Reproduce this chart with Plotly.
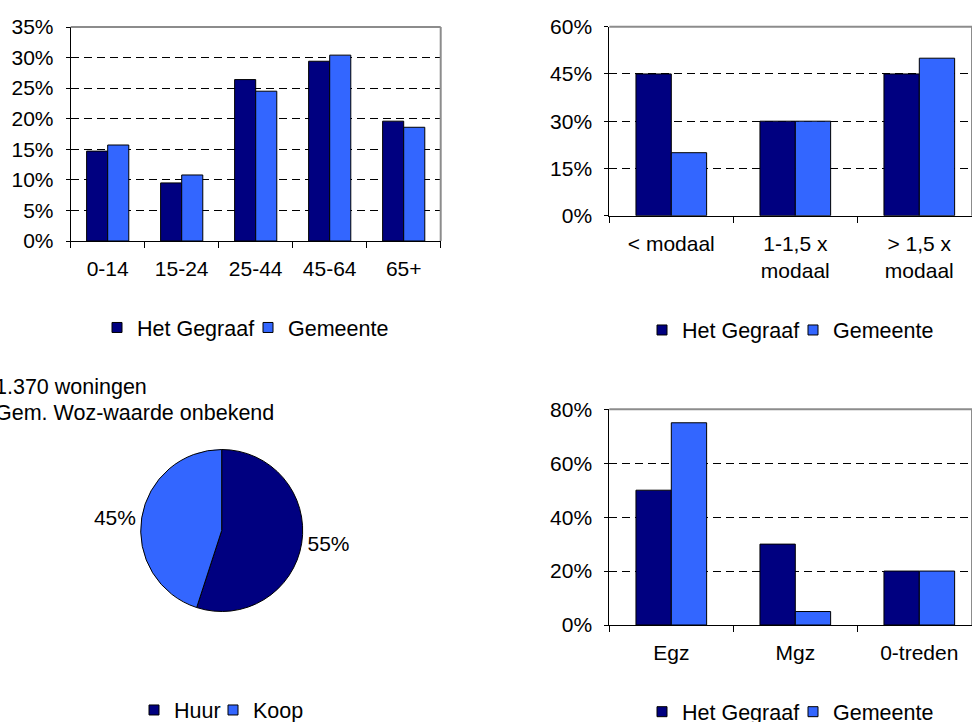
import plotly.graph_objects as go

# ---- data ----
age_groups = ["0-14", "15-24", "25-44", "45-64", "65+"]
age_gegraaf = [14.7, 9.5, 26.4, 29.4, 19.6]
age_gemeente = [15.7, 10.8, 24.5, 30.4, 18.6]

income_groups = ["< modaal", "1-1,5 x<br>modaal", "> 1,5 x<br>modaal"]
income_gegraaf = [45, 30, 45]
income_gemeente = [20, 30, 50]

tenure_labels = ["Huur", "Koop"]
tenure_values = [55, 45]

dwelling_types = ["Egz", "Mgz", "0-treden"]
dwelling_gegraaf = [50, 30, 20]
dwelling_gemeente = [75, 5, 20]

series_names = ["Het Gegraaf", "Gemeente"]
info_lines = ["1.370 woningen", "Gem. Woz-waarde onbekend"]

# ---- style ----
W, H = 972, 722
NAVY = "#000080"
BLUE = "#3366FF"
COLORS = [NAVY, BLUE]
FAMILY = "Liberation Sans, Arial, sans-serif"
FONT = dict(family=FAMILY, size=21, color="black")
LEG_FONT = dict(family=FAMILY, size=21.5, color="black")


def px_x(v):
    return v / W


def px_y(v):
    return 1 - v / H


fig = go.Figure()


def add_bars(cats, s1, s2, xa, ya):
    for name, vals, col in zip(series_names, (s1, s2), COLORS):
        fig.add_trace(go.Bar(
            x=cats, y=vals, name=name, xaxis=xa, yaxis=ya, showlegend=False,
            marker=dict(color=col, line=dict(color="black", width=1)),
            hoverinfo="skip",
        ))


def add_legend_key(name, col, legend):
    # small outlined square as legend key
    fig.add_trace(go.Scatter(
        x=[None], y=[None], mode="markers", name=name, legend=legend,
        marker=dict(symbol="square", size=10, color=col,
                    line=dict(color="black", width=1)),
        hoverinfo="skip",
    ))


add_bars(age_groups, age_gegraaf, age_gemeente, "x", "y")
add_bars(income_groups, income_gegraaf, income_gemeente, "x2", "y2")
add_bars(dwelling_types, dwelling_gegraaf, dwelling_gemeente, "x3", "y3")

fig.add_trace(go.Pie(
    labels=tenure_labels, values=tenure_values, sort=False,
    direction="clockwise", rotation=0,
    marker=dict(colors=COLORS, line=dict(color="black", width=1)),
    textposition="outside", texttemplate="%{percent:.0%}",
    textfont=FONT, showlegend=False,
    domain=dict(x=[px_x(140.7), px_x(302.7)], y=[px_y(611.7), px_y(449.3)]),
    hoverinfo="skip",
))

for lg in ("legend", "legend2", "legend4"):
    for name, col in zip(series_names, COLORS):
        add_legend_key(name, col, lg)
add_legend_key(tenure_labels[0], COLORS[0], "legend3")
add_legend_key(tenure_labels[1], COLORS[1], "legend5")


def xaxis_cfg(dom, rng, anchor):
    return dict(
        domain=dom, range=rng, anchor=anchor, type="category", showline=True,
        linecolor="black", linewidth=1, ticks="outside", tickson="boundaries",
        ticklen=6, tickcolor="black", tickwidth=1, showgrid=False,
        ticklabelstandoff=9, tickfont=FONT, fixedrange=True,
    )


def yaxis_cfg(dom, top, step, anchor):
    vals = list(range(0, top + 1, step))
    return dict(
        domain=dom, range=[0, top], anchor=anchor, tickvals=vals,
        ticktext=[f"{v}%" for v in vals],
        showline=True, linecolor="black", linewidth=1, ticks="outside", ticklen=4,
        tickcolor="black", showgrid=True, gridcolor="black", gridwidth=1,
        griddash="8px,5px", zeroline=False, ticklabelstandoff=8,
        tickfont=FONT, fixedrange=True,
    )


right_rng = [-0.5, -0.5 + (W - 609.3) / 124.0]

fig.update_layout(
    width=W, height=H, margin=dict(l=0, r=0, t=0, b=0, autoexpand=False),
    paper_bgcolor="white", plot_bgcolor="white", font=FONT,
    barmode="group", bargap=0.43, bargroupgap=0,
    xaxis=xaxis_cfg([px_x(70.7), px_x(440.7)], [-0.5, 4.5], "y"),
    yaxis=yaxis_cfg([px_y(241), px_y(27)], 35, 5, "x"),
    xaxis2=xaxis_cfg([px_x(609.3), 1.0], right_rng, "y2"),
    yaxis2=yaxis_cfg([px_y(215.7), px_y(26.7)], 60, 15, "x2"),
    xaxis3=xaxis_cfg([px_x(609.3), 1.0], right_rng, "y3"),
    yaxis3=yaxis_cfg([px_y(625), px_y(409.3)], 80, 20, "x3"),
)

leg_common = dict(orientation="h", yanchor="middle",
                  font=LEG_FONT, bgcolor="rgba(0,0,0,0)", itemclick=False,
                  itemdoubleclick=False, traceorder="normal")
fig.update_layout(
    legend=dict(x=px_x(248), y=px_y(327.5), xanchor="center", entrywidth=106, **leg_common),
    legend2=dict(x=px_x(793), y=px_y(330), xanchor="center", entrywidth=106, **leg_common),
    legend3=dict(x=px_x(134), y=px_y(710), xanchor="left", **leg_common),
    legend5=dict(x=px_x(213), y=px_y(710), xanchor="left", **leg_common),
    legend4=dict(x=px_x(793), y=px_y(711.7), xanchor="center", entrywidth=106, **leg_common),
)

# grey plot-area frame on top and right
for xr, yr in (("x", "y"), ("x2", "y2"), ("x3", "y3")):
    fig.add_shape(type="line", xref=f"{xr} domain", yref=f"{yr} domain",
                  x0=0, x1=1, y0=1, y1=1, line=dict(color="#8c8c8c", width=2))
    fig.add_shape(type="line", xref=f"{xr} domain", yref=f"{yr} domain",
                  x0=1, x1=1, y0=0, y1=1, line=dict(color="#8c8c8c", width=2))

for i, line in enumerate(info_lines):
    fig.add_annotation(text=line, xref="paper", yref="paper",
                       x=px_x(-7), y=px_y(386.7 + i * 26.6),
                       xanchor="left", yanchor="middle", showarrow=False,
                       font=LEG_FONT)

fig.write_html("out.html", config=dict(displayModeBar=False))
